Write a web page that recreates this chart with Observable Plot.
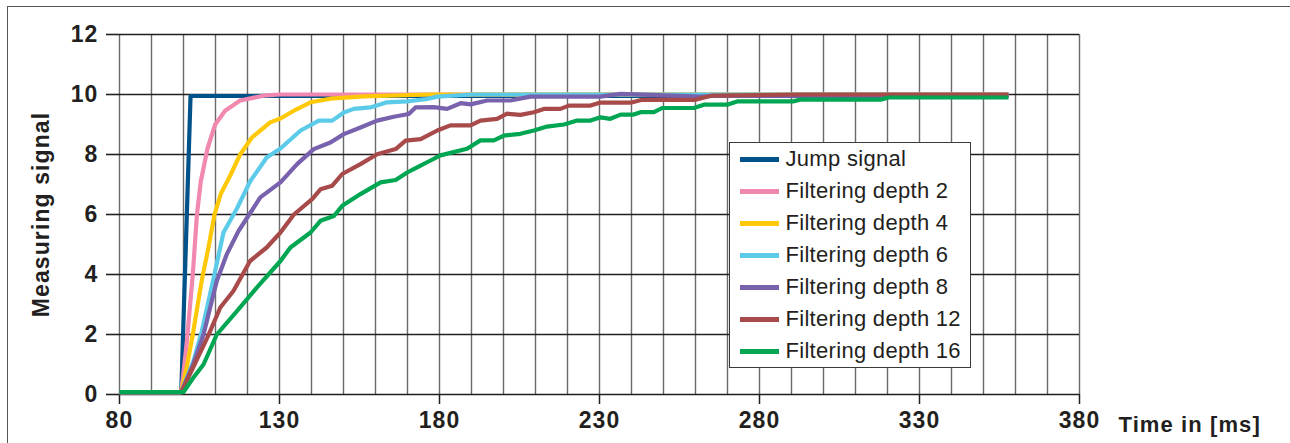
<!DOCTYPE html>
<html>
<head>
<meta charset="utf-8">
<script src="https://cdn.jsdelivr.net/npm/d3@7"></script>
<script src="https://cdn.jsdelivr.net/npm/@observablehq/plot@0.6"></script>
<style>
  html, body { margin: 0; padding: 0; background: #fff; }
  #wrap { position: relative; width: 1290px; height: 443px; overflow: hidden; background: #fff; }
  #frame { position: absolute; left: 7px; top: 6px; width: 1400px; height: 600px; border: 1.5px solid #555; box-sizing: border-box; }
  #chart { position: absolute; left: 0; top: 0; }
  #chart svg text { letter-spacing: 1.1px; fill: #231f20; }
  #legend { position: absolute; left: 729px; top: 142px; width: 242px; height: 226px; box-sizing: border-box;
            border: 1.5px solid #3a3a3a; background: #fff; font-family: "Liberation Sans", Arial, sans-serif;
            font-size: 22px; color: #231f20; letter-spacing: 0.3px; }
  .row { height: 32px; display: flex; align-items: center; }
  .sw { width: 39px; height: 5px; margin-left: 9.5px; margin-right: 7px; }
</style>
</head>
<body>
<div id="wrap">
  <div id="frame"></div>
  <div id="chart"></div>
  <div id="legend"></div>
</div>
<script>
// ---- data (time in ms, measuring signal) ----
const seriesNames = ["Jump signal", "Filtering depth 2", "Filtering depth 4", "Filtering depth 6",
                     "Filtering depth 8", "Filtering depth 12", "Filtering depth 16"];
const seriesColors = ["#00528a", "#f088b0", "#ffc90a", "#5ccbea", "#7862ad", "#a84a4a", "#00a651"];

const xTicks = [80, 130, 180, 230, 280, 330, 380];
const xGrid = [80, 90, 100, 110, 120, 130, 140, 150, 160, 170, 180, 190, 200, 210, 220, 230,
               240, 250, 260, 270, 280, 290, 300, 310, 320, 330, 340, 350, 360, 370, 380];
const yTicks = [0, 2, 4, 6, 8, 10, 12];

const jump = [[80,0.08],[99.3,0.08],[102.2,9.95],[357.8,9.95]];
const depth2 = [[80,0.08],[99.3,0.08],[101,1.7],[102.9,4.0],[104.2,6.0],[105.4,7.1],[107.5,8.2],
  [109.9,9.0],[113,9.46],[117.7,9.8],[125,9.96],[130,10],[357.8,10]];
const depth4 = [[80,0.08],[99.3,0.08],[101,0.9],[102.9,2.0],[105.7,3.8],[107.8,4.9],[109.7,6.0],
  [111.7,6.7],[114.6,7.3],[117.7,8.0],[121.4,8.57],[127.1,9.07],[130.3,9.2],[134.5,9.46],
  [139.7,9.74],[145.9,9.86],[156.4,9.94],[177,10],[357.8,10]];
const depth6 = [[80,0.08],[99.3,0.08],[103.1,1.11],[105.7,2.1],[109.2,3.78],[112.5,5.4],[116.7,6.2],
  [120.8,7.1],[126,7.9],[130.3,8.2],[136.6,8.8],[142.3,9.13],[146.5,9.13],[150.1,9.4],[153.2,9.52],
  [158.4,9.57],[163.6,9.74],[169.9,9.77],[176.1,9.85],[179.3,9.93],[190,10],[357.8,10]];
const depth8 = [[80,0.08],[99.3,0.08],[103,1.0],[106.25,2.0],[110.4,3.78],[113.5,4.67],[117.2,5.45],
  [124,6.57],[130.3,7.07],[135.5,7.68],[140.7,8.18],[145.9,8.4],[150.1,8.68],[155.3,8.9],
  [160.5,9.13],[165.7,9.26],[170.4,9.35],[172.5,9.57],[178.2,9.58],[182.4,9.52],[186.6,9.71],
  [189.7,9.67],[194.9,9.8],[202.2,9.8],[208.4,9.93],[230.3,9.93],[236.6,10.02],[261.5,9.93],
  [265,9.95],[357.8,9.97]];
const depth12 = [[80,0.08],[99.3,0.08],[103,0.9],[107.8,1.98],[111.5,2.9],[115.6,3.45],[120.8,4.45],
  [126,4.9],[130.3,5.4],[134.5,6.0],[140.2,6.51],[142.8,6.84],[146.5,6.96],[149.6,7.35],[155.3,7.68],
  [160.5,8.01],[166.3,8.18],[169.4,8.46],[174.1,8.51],[179.3,8.8],[183.4,8.97],[189.7,8.97],
  [192.8,9.13],[198,9.19],[201.1,9.36],[205.3,9.32],[209.5,9.41],[212.6,9.52],[217.8,9.52],
  [220.4,9.63],[227.2,9.63],[230.3,9.73],[240,9.73],[243,9.82],[259.7,9.82],[264.9,9.96],
  [293,10],[357.8,10]];
const depth16 = [[80,0.08],[100,0.08],[103,0.55],[106.25,1.0],[110.4,2.0],[116.7,2.78],[122.9,3.56],
  [130.3,4.45],[133.4,4.9],[139.7,5.4],[142.8,5.79],[147,5.95],[149.6,6.29],[155.3,6.68],
  [161.6,7.07],[166.3,7.15],[169.9,7.4],[173,7.57],[177.2,7.8],[180.3,7.97],[188.6,8.19],
  [192.8,8.47],[197,8.47],[200.1,8.63],[205.3,8.69],[209.5,8.8],[213.6,8.93],[218.9,9.0],
  [223,9.13],[227.2,9.13],[230.3,9.24],[233.4,9.19],[236.6,9.33],[240.7,9.33],[242.8,9.41],
  [247,9.41],[249.6,9.55],[259.5,9.55],[262.6,9.66],[269.9,9.66],[273,9.77],[290.5,9.77],
  [292.8,9.83],[317.8,9.83],[320.4,9.9],[357.8,9.9]];

const allSeries = [jump, depth2, depth4, depth6, depth8, depth12, depth16];
const FONT = "Liberation Sans, Arial, Helvetica, sans-serif";

const chart = Plot.plot({
  width: 1290,
  height: 443,
  marginLeft: 119,
  marginRight: 211,
  marginTop: 34,
  marginBottom: 49,
  style: { fontFamily: FONT, fontSize: "23px", fontWeight: "bold", color: "#231f20", background: "transparent", overflow: "visible" },
  x: { domain: [80, 380] },
  y: { domain: [0, 12] },
  marks: [
    Plot.ruleX(xGrid, { stroke: "#6a6a6a", strokeWidth: 1.4 }),
    Plot.ruleY(yTicks, { stroke: "#231f20", strokeWidth: 1.6 }),
    Plot.axisY({ ticks: yTicks, tickSize: 13, tickPadding: 8, strokeWidth: 1.6,
                 label: "Measuring signal", labelAnchor: "center", labelArrow: false, labelOffset: 87,
                 fontSize: 23, fontWeight: "bold" }),
    Plot.axisX({ ticks: xTicks, tickSize: 10, tickPadding: 7, strokeWidth: 1.5, label: null,
                 fontSize: 23, fontWeight: "bold" }),
    ...allSeries.map((s, i) => Plot.line(s, {
      x: d => d[0], y: d => d[1], stroke: seriesColors[i], strokeWidth: 4.2,
      strokeLinejoin: "round", strokeLinecap: "butt"
    })),
    Plot.text(["Time in [ms]"], { text: d => d, frameAnchor: "bottom-right", dx: 39, dy: 30,
      textAnchor: "start", lineAnchor: "middle", fontSize: 22, fontWeight: "bold" })
  ]
});
document.getElementById("chart").appendChild(chart);

// legend
const legend = document.getElementById("legend");
seriesNames.forEach((name, i) => {
  const row = document.createElement("div");
  row.className = "row";
  const sw = document.createElement("div");
  sw.className = "sw";
  sw.style.background = seriesColors[i];
  const tx = document.createElement("span");
  tx.textContent = name;
  row.appendChild(sw);
  row.appendChild(tx);
  legend.appendChild(row);
});
</script>
</body>
</html>
